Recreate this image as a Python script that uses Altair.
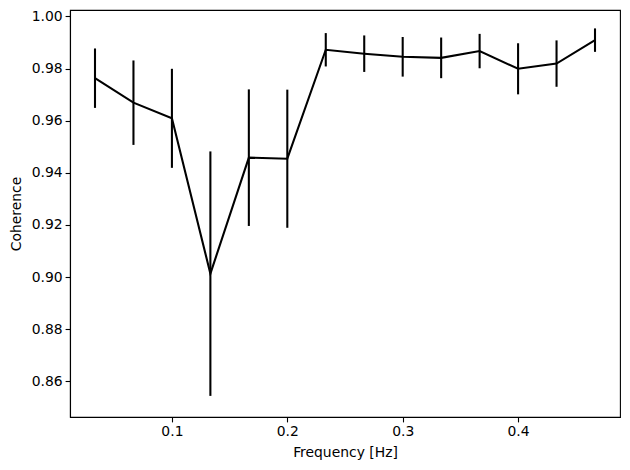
import altair as alt
import pandas as pd

freq = [i / 30 for i in range(1, 15)]
coh = [0.9763, 0.9669, 0.9609, 0.9013, 0.9458, 0.9454, 0.9872,
       0.9857, 0.9845, 0.9841, 0.9867, 0.9799, 0.9819, 0.9909]
err = [0.0114, 0.0162, 0.0190, 0.0469, 0.0262, 0.0265, 0.0064,
       0.0070, 0.0076, 0.0078, 0.0066, 0.0098, 0.0089, 0.0045]

df = pd.DataFrame({"f": freq, "c": coh, "e": err})
df["lo"] = df["c"] - df["e"]
df["hi"] = df["c"] + df["e"]

xs = alt.Scale(domain=[0.01167, 0.48833], nice=False, zero=False)
ys = alt.Scale(domain=[0.8463, 1.00246], nice=False, zero=False)

xaxis = alt.Axis(title="Frequency [Hz]", values=[0.1, 0.2, 0.3, 0.4], format=".1f",
                 grid=False, tickSize=4.9, labelPadding=3, titlePadding=7)
yaxis = alt.Axis(title="Coherence", values=[0.86, 0.88, 0.90, 0.92, 0.94, 0.96, 0.98, 1.00],
                 format=".2f", grid=False, tickSize=4.9, labelPadding=3, titlePadding=8)

base = alt.Chart(df)
line = base.mark_line(color="black", strokeWidth=2.08).encode(
    x=alt.X("f:Q", scale=xs, axis=xaxis),
    y=alt.Y("c:Q", scale=ys, axis=yaxis),
)
bars = base.mark_rule(color="black", strokeWidth=2.08).encode(
    x=alt.X("f:Q", scale=xs),
    y=alt.Y("lo:Q", scale=ys),
    y2="hi:Q",
)

chart = (bars + line).properties(
    width=550, height=407,
    background="white",
    autosize=alt.AutoSizeParams(type="none"),
    padding={"left": 70, "top": 10, "right": 10, "bottom": 53},
).configure_view(stroke="black", strokeWidth=1.1).configure_axis(
    domainColor="black", domainWidth=1.1, tickColor="black", tickWidth=1.1,
    labelFont="DejaVu Sans", labelFontSize=13.9, labelColor="black",
    titleFont="DejaVu Sans", titleFontSize=13.9, titleFontWeight="normal", titleColor="black",
)

chart.save("out.html", embed_options={"renderer": "svg", "actions": False})
